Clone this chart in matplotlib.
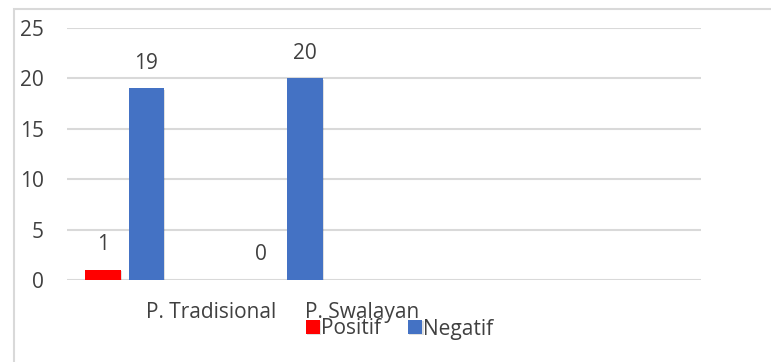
import matplotlib
matplotlib.use("Agg")
import matplotlib.pyplot as plt
import matplotlib.patheffects as pe
from matplotlib.patches import Rectangle
import numpy as np

categories = ["P. Tradisional", "P. Swalayan", "", ""]
positif = [1, 0, None, None]
negatif = [19, 20, None, None]
series_names = ["Positif", "Negatif"]
colors = ["#FF0000", "#4472C4"]
yticks = [0, 5, 10, 15, 20, 25]

plt.rcParams['font.family'] = ['Open Sans', 'DejaVu Sans']

W, H = 771, 362
fig = plt.figure(figsize=(W / 100, H / 100), dpi=100)
fig.patch.set_facecolor("white")

# outer frame
fig.patches.append(Rectangle((13.5 / W, -0.1), 1.2, (H - 9) / H + 0.1,
                             transform=fig.transFigure, fill=False,
                             edgecolor="#D9D9D9", linewidth=1.5))

ax = fig.add_axes([67 / W, 82 / H, (701 - 67) / W, (280 - 28) / H])
ax.set_xlim(0, 4)
ax.set_ylim(0, 25)

FS = 15
x = np.arange(len(categories)) + 0.5
bw = 35.5 / 158.5  # bar width in category units
gap = 43.5 / 158.5  # center to center distance
txtcol = "#404040"
shadow = [pe.SimplePatchShadow(offset=(0.8, -0.8), shadow_rgbFace="#000000", alpha=0.12), pe.Normal()]

for si, (vals, col) in enumerate(zip([positif, negatif], colors)):
    xs, ys = [], []
    for i, v in enumerate(vals):
        if v is None:
            continue
        xs.append(x[i] + (si - 1) * gap)
        ys.append(v)
    bars = ax.bar(xs, ys, width=bw, color=col, label=series_names[si], zorder=3)
    for b in bars:
        if b.get_height() > 0:
            b.set_path_effects(shadow)
    for xi, yi in zip(xs, ys):
        ax.annotate(str(yi), (xi, yi), xytext=(0, 25 * 0.72), textcoords="offset points",
                    ha="center", va="center", fontsize=FS, color=txtcol, zorder=4)

ax.set_yticks(yticks)
ax.grid(axis="y", color="#D9D9D9", linewidth=1.5, zorder=0)
ax.set_axisbelow(True)
for s in ax.spines.values():
    s.set_visible(False)
ax.tick_params(axis="y", length=0, pad=23 * 0.72, labelsize=FS, labelcolor=txtcol)
ax.set_yticklabels([str(t) for t in yticks], ha="right")
ax.set_xticks(x[:2])
ax.set_xticklabels(categories[:2])
for lbl in ax.get_xticklabels():
    lbl.set_ha("left")
ax.tick_params(axis="x", length=0, pad=22 * 0.72, labelsize=FS, labelcolor=txtcol)

leg = fig.legend(loc="center left", bbox_to_anchor=(306 / W, 1 - 329 / H), ncol=2,
                 frameon=False, fontsize=FS, handlelength=0.68, handleheight=0.68,
                 handletextpad=0.05, columnspacing=1.3, borderpad=0, borderaxespad=0)
for t in leg.get_texts():
    t.set_color(txtcol)

fig.savefig("out.png", dpi=100)
